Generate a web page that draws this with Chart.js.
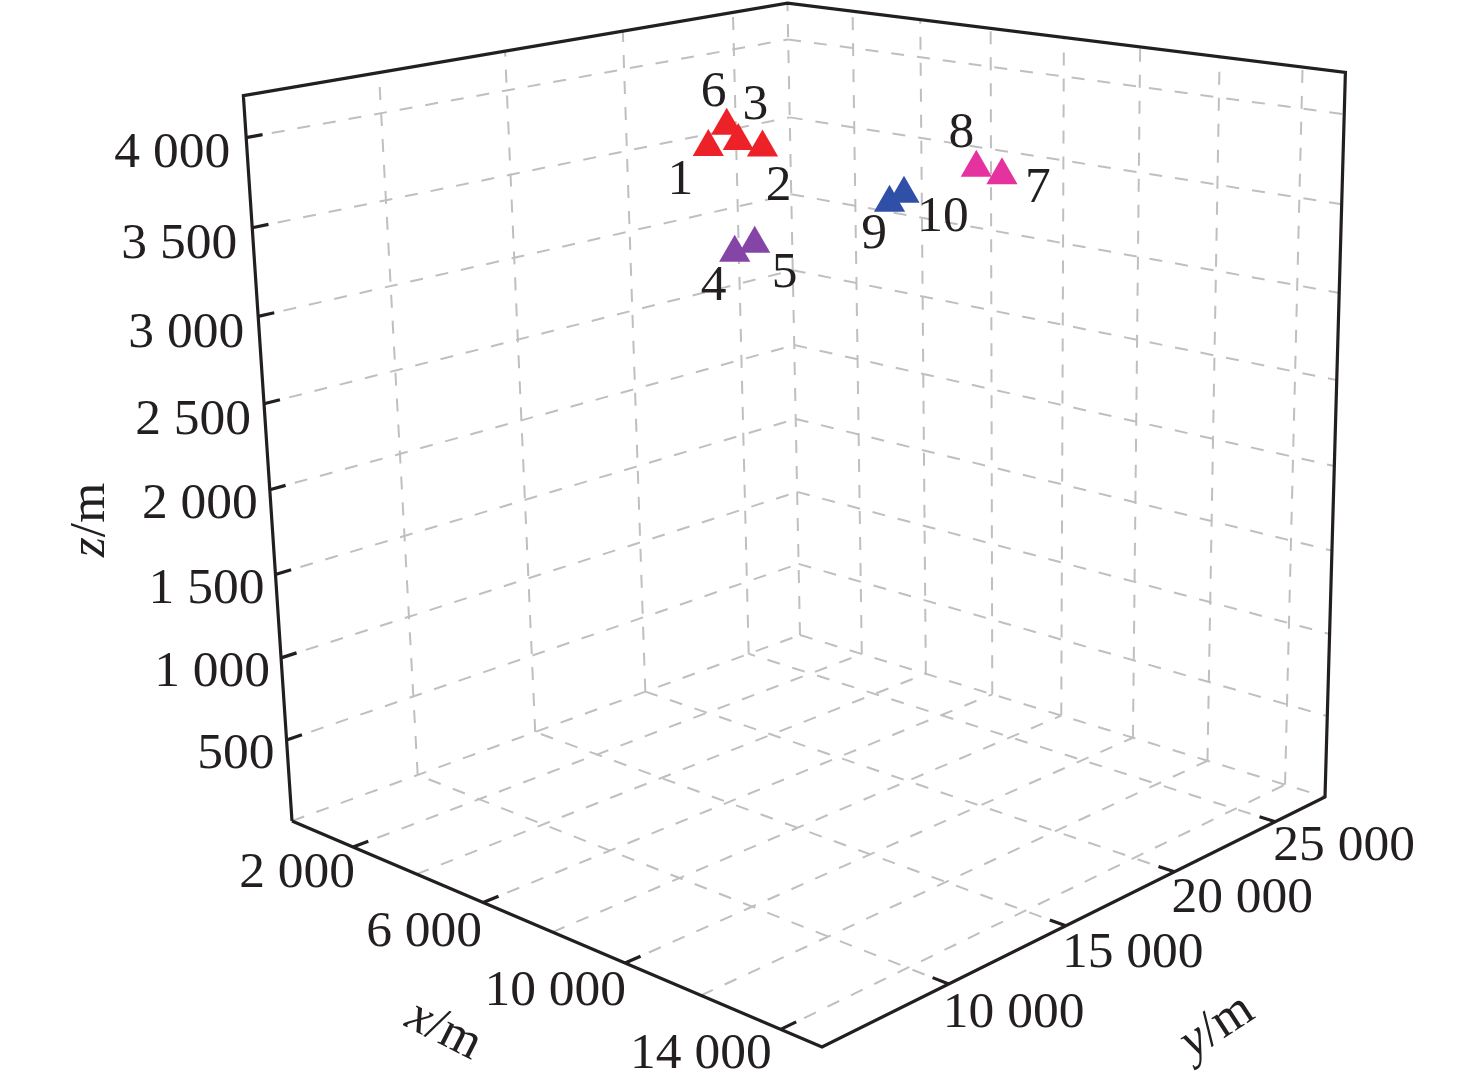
<!DOCTYPE html><html><head><meta charset="utf-8"><style>html,body{margin:0;background:#fff}canvas{display:block}</style>
<script src="https://cdn.jsdelivr.net/npm/chart.js@4"></script></head><body><canvas id="c" width="1476" height="1085"></canvas>
<script>
// ---- data ----
const stationNames=['1','2','3','4','5','6','7','8','9','10'];
const stationX=[5047,5931,5068,4372,4097,3696,10284,9405,8046,7685];
const stationY=[16307,17271,17547,18310,19607,19103,20590,20972,19384,20627];
const stationZ=[3800,3800,3800,3100,3100,3800,3700,3700,3500,3500];
const stationColors=['#ed2229','#ed2229','#ed2229','#8445a6','#8445a6','#ed2229','#e6329e','#e6329e','#2f50a6','#2f50a6'];
const xGrid=[2000,4000,6000,8000,10000,12000,14000];
const xTicks=[2000,6000,10000,14000];
const xTickLabels=['2 000','6 000','10 000','14 000'];
const yTicks=[10000,15000,20000,25000];
const yTickLabels=['10 000','15 000','20 000','25 000'];
const zTicks=[500,1000,1500,2000,2500,3000,3500,4000];
const zTickLabels=['500','1 000','1 500','2 000','2 500','3 000','3 500','4 000'];
const xRange=[0,15000], yRange=[5000,27600], zRange=[0,4230];
// ---- camera: normalised box -> picture plane ----
const cam=[[403.3,633.76,-63.9,292],[64.6,-86.18,-731.3,821],[-.15414,.1572,-.0627,1]];
function proj(x,y,z){
  const p=[(x-xRange[0])/(xRange[1]-xRange[0]),(y-yRange[0])/(yRange[1]-yRange[0]),(z-zRange[0])/(zRange[1]-zRange[0]),1];
  const r=cam.map(m=>m[0]*p[0]+m[1]*p[1]+m[2]*p[2]+m[3]);
  return {x:r[0]/r[2],y:r[1]/r[2]};
}
const [x0,x1]=xRange,[y0,y1]=yRange,[z0,z1]=zRange;
const datasets=[];
function line(pts,color,width,dash){datasets.push({type:'scatter',data:pts,showLine:true,borderColor:color,borderWidth:width,borderDash:dash||[],pointRadius:0,fill:false,borderCapStyle:'butt',borderJoinStyle:'miter',clip:false});}
const GRID='#bfbfbf',INK='#231f20',DASH=[13,13];
// floor and walls, dashed
xGrid.forEach(x=>{line([proj(x,y0,z0),proj(x,y1,z0)],GRID,2,DASH);line([proj(x,y1,z0),proj(x,y1,z1)],GRID,2,DASH);});
yTicks.forEach(y=>{line([proj(x1,y,z0),proj(x0,y,z0)],GRID,2,DASH);line([proj(x0,y,z0),proj(x0,y,z1)],GRID,2,DASH);});
zTicks.forEach(z=>{line([proj(x0,y0,z),proj(x0,y1,z)],GRID,2,DASH);line([proj(x0,y1,z),proj(x1,y1,z)],GRID,2,DASH);});
line([proj(x0,y1,z0),proj(x1,y1,z0)],GRID,2,DASH);
line([proj(x0,y0,z0),proj(x0,y1,z0)],GRID,2,DASH);
line([proj(x0,y1,z0),proj(x0,y1,z1)],GRID,2,DASH);
// box frame
line([proj(x0,y0,z0),proj(x0,y0,z1),proj(x0,y1,z1),proj(x1,y1,z1),proj(x1,y1,z0),proj(x1,y0,z0),proj(x0,y0,z0)],INK,3.2);
// tick marks run inward along the floor / wall
const tickFrac=.026;
xTicks.forEach(x=>line([proj(x,y0,z0),proj(x,y0+(y1-y0)*tickFrac,z0)],INK,3.2));
yTicks.forEach(y=>line([proj(x1,y,z0),proj(x1-(x1-x0)*tickFrac,y,z0)],INK,3.2));
zTicks.forEach(z=>line([proj(x0,y0,z),proj(x0,y0+(y1-y0)*tickFrac,z)],INK,3.2));
// stations
stationNames.forEach((n,i)=>datasets.push({type:'scatter',label:n,data:[proj(stationX[i],stationY[i],stationZ[i])],pointStyle:'triangle',pointRadius:18,pointHoverRadius:18,pointBorderWidth:0,backgroundColor:stationColors[i],borderWidth:0,showLine:false,clip:false}));
datasets.reverse(); // Chart.js paints the first dataset last
const labelNudge=[[-28,30],[16,36],[17,-39],[-21,30],[30,26],[-13,-37],[36,10],[-15,-38],[-15.5,28],[39,20]];
const zNudge=[[-12,11],[-11,11],[-11,12],[-12,11],[-13,13],[-14,14],[-15,13],[-16,12]];
const xNudge=[[2,23],[-1,27],[1,25],[-9,22]];
const yNudge=[[-6,26],[-4,24],[-3,23],[-2,21]];
const FONT='51.5px "Liberation Serif"',ITAL='italic 51.5px "Liberation Serif"';
const textPlugin={id:'text',afterDatasetsDraw(chart){
  const c=chart.ctx,sx=chart.scales.x,sy=chart.scales.y;
  const px=p=>({x:sx.getPixelForValue(p.x),y:sy.getPixelForValue(p.y)});
  c.save();c.fillStyle=INK;c.font=FONT;c.textBaseline='alphabetic';
  const cap=17;
  c.textAlign='right';
  zTicks.forEach((z,i)=>{const p=px(proj(x0,y0,z));c.fillText(zTickLabels[i],p.x+zNudge[i][0],p.y+zNudge[i][1]+cap);});
  xTicks.forEach((x,i)=>{const p=px(proj(x,y0,z0));c.fillText(xTickLabels[i],p.x+xNudge[i][0],p.y+xNudge[i][1]+cap);});
  c.textAlign='left';
  yTicks.forEach((y,i)=>{const p=px(proj(x1,y,z0));c.fillText(yTickLabels[i],p.x+yNudge[i][0],p.y+yNudge[i][1]+cap);});
  c.textAlign='center';
  stationNames.forEach((n,i)=>{const p=px(proj(stationX[i],stationY[i],stationZ[i]));c.fillText(n,p.x+labelNudge[i][0],p.y+labelNudge[i][1]+cap);});
  function title(letter,cx,cy,rot){
    c.save();c.translate(cx,cy);c.rotate(rot);c.textAlign='left';
    c.font=ITAL;const a=c.measureText(letter).width;c.font=FONT;const b=c.measureText('/m').width;
    const st=-(a+b)/2;
    c.font=ITAL;c.fillText(letter,st,12);c.font=FONT;c.fillText('/m',st+a,12);c.restore();
  }
  title('x',443,1032,27*Math.PI/180);
  title('y',1218,1028,-33*Math.PI/180);
  title('z',92,520,-Math.PI/2);
  c.restore();
}};
new Chart(document.getElementById('c'),{type:'scatter',data:{datasets},plugins:[textPlugin],options:{
  responsive:false,animation:false,events:[],
  layout:{padding:0,autoPadding:false},
  plugins:{legend:{display:false},tooltip:{enabled:false}},
  scales:{x:{type:'linear',min:0,max:1476,display:false},y:{type:'linear',min:0,max:1085,reverse:true,display:false}}
}});
</script></body></html>
